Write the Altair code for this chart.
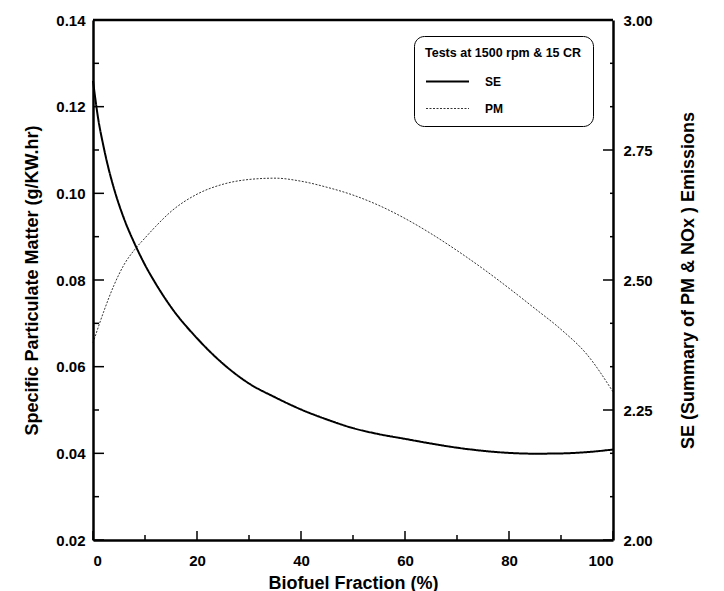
import altair as alt
import pandas as pd

# ---- data ----
se_x = [0, 1, 2, 3, 4, 6, 8, 10, 12, 15, 20, 25, 30, 35, 40, 45, 50, 55, 60, 65, 70, 75, 80, 85, 90, 95, 100]
se_y = [2.883, 2.810, 2.758, 2.714, 2.677, 2.617, 2.570, 2.529, 2.494, 2.448, 2.388, 2.339, 2.301, 2.2745,
        2.251, 2.2317, 2.2152, 2.2035, 2.1945, 2.1855, 2.1775, 2.1715, 2.1675, 2.166, 2.1665, 2.169, 2.174]

pm_x = [0, 2, 4, 6, 8, 10, 12, 15, 20, 25, 30, 35, 40, 45, 50, 55, 60, 65, 70, 75, 80, 85, 90, 95, 100]
pm_y = [0.0655, 0.0725, 0.0787, 0.0836, 0.0870, 0.0897, 0.0923, 0.0958, 0.0998, 0.1021, 0.1032, 0.1035,
        0.1028, 0.1014, 0.0996, 0.0972, 0.0942, 0.0907, 0.0868, 0.0826, 0.0781, 0.0734, 0.0686, 0.0628, 0.0542]

series = ["SE", "PM"]

x_major = [0, 20, 40, 60, 80, 100]
x_minor = [10, 30, 50, 70, 90]
left_major = [0.02, 0.04, 0.06, 0.08, 0.10, 0.12, 0.14]
left_minor = [0.03, 0.05, 0.07, 0.09, 0.11, 0.13]
right_major = [2.00, 2.25, 2.50, 2.75, 3.00]
right_minor = [2.0833, 2.1667, 2.3333, 2.4167, 2.5833, 2.6667, 2.8333, 2.9167]

legend_title = "Tests at 1500 rpm & 15 CR"
x_title = "Biofuel Fraction (%)"
left_title = "Specific Particulate Matter (g/KW.hr)"
right_title = "SE (Summary of PM & NOx ) Emissions"

FONT = "Liberation Sans"
W, H = 520, 520

se_df = pd.DataFrame({"x": se_x, "v": se_y, "series": "SE"})
pm_df = pd.DataFrame({"x": pm_x, "v": pm_y, "series": "PM"})

xscale = alt.Scale(domain=[0, 100], nice=False, zero=False)
lscale = alt.Scale(domain=[0.02, 0.14], nice=False, zero=False)
rscale = alt.Scale(domain=[2.0, 3.0], nice=False, zero=False)

dom = dict(domain=True, domainColor="black", domainWidth=2.5, domainOpacity=1)
x_axis = alt.Axis(values=x_major, format="d", title=x_title, ticks=False, grid=False,
                  labelPadding=13, titlePadding=6, orient="bottom", **dom)
l_axis = alt.Axis(values=left_major, format=".2f", title=left_title, ticks=False,
                  grid=False, labelPadding=8, titlePadding=14, orient="left", **dom)
r_axis = alt.Axis(values=right_major, format=".2f", title=right_title, ticks=False,
                  grid=False, labelPadding=10, titlePadding=45, orient="right", titleAngle=270, **dom)

dash = alt.StrokeDash("series:N", scale=alt.Scale(domain=series, range=[[1, 0], [2, 1.5]]),
                      legend=alt.Legend(
                          orient="none", legendX=321, legendY=16, title=legend_title,
                          titleFont=FONT, titleFontSize=12.5, titleFontWeight="bold", titleColor="black",
                          titlePadding=16,
                          labelFont=FONT, labelFontSize=12, labelFontWeight="bold", labelColor="black",
                          labelOffset=48, rowPadding=15,
                          symbolType="M-1,0H7.6", symbolSize=100, symbolStrokeColor="black",
                          symbolFillColor="transparent",
                          strokeColor="black", cornerRadius=10, padding=11, fillColor="white"))
swidth = alt.StrokeWidth("series:N", scale=alt.Scale(type="point", domain=series, range=[2, 0.8]),
                         legend=None)

pm_line = alt.Chart(pm_df).mark_line(color="black", interpolate="monotone").encode(
    x=alt.X("x:Q", scale=xscale, axis=x_axis),
    y=alt.Y("v:Q", scale=lscale, axis=l_axis),
    strokeDash=dash, strokeWidth=swidth)

se_line = alt.Chart(se_df).mark_line(color="black", interpolate="monotone").encode(
    x=alt.X("x:Q", scale=xscale, axis=x_axis),
    y=alt.Y("v:Q", scale=rscale, axis=r_axis),
    strokeDash=dash, strokeWidth=swidth)


def yticks(vals, scale, axis, x0, x1):
    return alt.Chart(pd.DataFrame({"v": vals})).mark_rule(stroke="#000000", strokeWidth=1.5, opacity=1).encode(
        y=alt.Y("v:Q", scale=scale, axis=axis), x=alt.value(x0), x2=alt.value(x1))


def xticks(vals, y0, y1):
    return alt.Chart(pd.DataFrame({"x": vals})).mark_rule(stroke="#000000", strokeWidth=1.5, opacity=1).encode(
        x=alt.X("x:Q", scale=xscale, axis=x_axis), y=alt.value(y0), y2=alt.value(y1))


top_line = alt.Chart(pd.DataFrame({"x": [0]})).mark_rule(stroke="#000000", strokeWidth=2.5, opacity=1).encode(
    x=alt.value(0), x2=alt.value(W), y=alt.value(0))

left_group = alt.layer(
    pm_line,
    yticks(left_major, lscale, l_axis, 0, 11),
    yticks(left_minor, lscale, l_axis, 0, 6),
    xticks(x_major, H, H - 9),
    xticks(x_minor, H, H - 5),
    top_line,
)
right_group = alt.layer(
    se_line,
    yticks(right_major, rscale, r_axis, W, W - 10),
    yticks(right_minor, rscale, r_axis, W, W - 3),
)

chart = alt.layer(left_group, right_group).resolve_scale(
    y="independent", strokeDash="shared", strokeWidth="shared"
).properties(
    width=W, height=H,
    background="white",
    autosize=alt.AutoSizeParams(type="none"),
    padding={"left": 93, "top": 20, "right": 111, "bottom": 51},
).configure_view(
    stroke="transparent"
).configure_axis(
    labelFont=FONT, labelFontSize=15, labelFontWeight="bold", labelColor="black",
    titleFont=FONT, titleFontSize=18, titleFontWeight="bold", titleColor="black",
)

chart.save("out.html", embed_options={"renderer": "svg", "actions": False})
